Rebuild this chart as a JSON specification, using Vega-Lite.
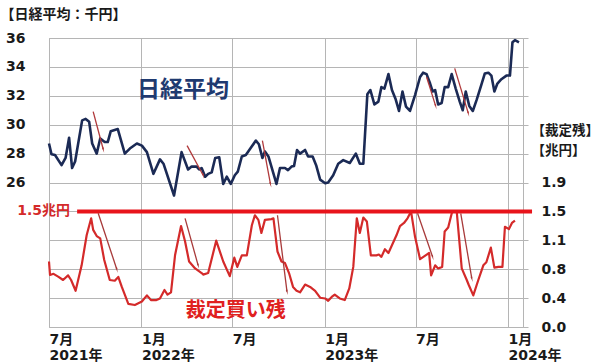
{
  "$schema": "https://vega.github.io/schema/vega-lite/v6.json",
  "width": 474,
  "height": 289,
  "autosize": "none",
  "padding": {"left": 49, "top": 38, "right": 77, "bottom": 36},
  "background": "white",
  "config": {
    "view": {"stroke": "#b5b5b5", "strokeWidth": 1},
    "axis": {
      "domain": false,
      "gridColor": "#b5b5b5",
      "gridWidth": 1,
      "tickColor": "#b5b5b5",
      "labelFont": "DejaVu Sans, Noto Sans CJK JP",
      "labelFontWeight": "bold",
      "labelFontSize": 14,
      "labelColor": "#1a1a1a",
      "titleFont": "Noto Sans CJK JP",
      "titleFontWeight": "bold",
      "titleColor": "#1a1a1a"
    }
  },
  "datasets": {
    "nikkei": [
      {"date": "2021-07-01", "value": 28.7}, {"date": "2021-07-06", "value": 27.95}, {"date": "2021-07-13", "value": 27.9},
      {"date": "2021-07-26", "value": 27.2}, {"date": "2021-08-03", "value": 27.7}, {"date": "2021-08-10", "value": 29.1},
      {"date": "2021-08-16", "value": 27.0}, {"date": "2021-08-22", "value": 27.45}, {"date": "2021-09-05", "value": 30.3},
      {"date": "2021-09-12", "value": 30.4}, {"date": "2021-09-19", "value": 30.2}, {"date": "2021-09-25", "value": 28.7},
      {"date": "2021-10-04", "value": 28.0}, {"date": "2021-10-11", "value": 29.05}, {"date": "2021-10-20", "value": 28.8},
      {"date": "2021-10-26", "value": 28.8}, {"date": "2021-11-01", "value": 29.55}, {"date": "2021-11-15", "value": 29.7},
      {"date": "2021-11-29", "value": 28.0}, {"date": "2021-12-09", "value": 28.35}, {"date": "2021-12-23", "value": 28.7},
      {"date": "2022-01-02", "value": 28.55}, {"date": "2022-01-12", "value": 28.1}, {"date": "2022-01-25", "value": 26.6},
      {"date": "2022-02-07", "value": 27.6}, {"date": "2022-02-14", "value": 27.3}, {"date": "2022-03-07", "value": 25.1},
      {"date": "2022-03-22", "value": 28.1}, {"date": "2022-04-04", "value": 26.9}, {"date": "2022-04-11", "value": 27.1},
      {"date": "2022-04-21", "value": 27.1}, {"date": "2022-04-26", "value": 26.9}, {"date": "2022-05-01", "value": 27.0},
      {"date": "2022-05-08", "value": 26.4}, {"date": "2022-05-14", "value": 26.6}, {"date": "2022-05-21", "value": 26.7},
      {"date": "2022-05-28", "value": 27.7}, {"date": "2022-06-05", "value": 27.75}, {"date": "2022-06-13", "value": 25.9},
      {"date": "2022-06-20", "value": 26.4}, {"date": "2022-06-28", "value": 25.9}, {"date": "2022-07-06", "value": 26.5},
      {"date": "2022-07-12", "value": 26.75}, {"date": "2022-07-20", "value": 27.8}, {"date": "2022-07-28", "value": 27.9},
      {"date": "2022-08-07", "value": 28.4}, {"date": "2022-08-17", "value": 28.9}, {"date": "2022-08-23", "value": 28.65},
      {"date": "2022-08-30", "value": 27.7}, {"date": "2022-09-04", "value": 28.15}, {"date": "2022-09-11", "value": 27.8},
      {"date": "2022-09-19", "value": 26.85}, {"date": "2022-09-27", "value": 25.9}, {"date": "2022-10-04", "value": 27.0},
      {"date": "2022-10-14", "value": 27.0}, {"date": "2022-10-20", "value": 26.85}, {"date": "2022-10-27", "value": 27.1},
      {"date": "2022-11-01", "value": 27.15}, {"date": "2022-11-07", "value": 28.25}, {"date": "2022-11-13", "value": 28.0},
      {"date": "2022-11-23", "value": 28.25}, {"date": "2022-11-29", "value": 27.8}, {"date": "2022-12-08", "value": 27.8},
      {"date": "2022-12-15", "value": 27.2}, {"date": "2022-12-23", "value": 26.2}, {"date": "2023-01-02", "value": 25.95},
      {"date": "2023-01-08", "value": 26.0}, {"date": "2023-01-18", "value": 26.5}, {"date": "2023-01-28", "value": 27.3},
      {"date": "2023-02-07", "value": 27.55}, {"date": "2023-02-20", "value": 27.35}, {"date": "2023-03-04", "value": 28.0},
      {"date": "2023-03-12", "value": 27.3}, {"date": "2023-03-19", "value": 27.3}, {"date": "2023-03-27", "value": 32.1},
      {"date": "2023-04-02", "value": 32.4}, {"date": "2023-04-10", "value": 31.4}, {"date": "2023-04-18", "value": 31.6},
      {"date": "2023-04-24", "value": 32.6}, {"date": "2023-04-30", "value": 32.5}, {"date": "2023-05-08", "value": 33.5},
      {"date": "2023-05-15", "value": 32.4}, {"date": "2023-05-22", "value": 31.8}, {"date": "2023-05-29", "value": 30.95},
      {"date": "2023-06-05", "value": 32.3}, {"date": "2023-06-12", "value": 31.25}, {"date": "2023-06-20", "value": 30.95},
      {"date": "2023-06-30", "value": 32.05}, {"date": "2023-07-10", "value": 33.3}, {"date": "2023-07-16", "value": 33.6},
      {"date": "2023-07-23", "value": 33.5}, {"date": "2023-07-30", "value": 32.85}, {"date": "2023-08-04", "value": 32.3},
      {"date": "2023-08-09", "value": 32.4}, {"date": "2023-08-15", "value": 31.4}, {"date": "2023-08-22", "value": 31.5},
      {"date": "2023-08-28", "value": 32.6}, {"date": "2023-09-04", "value": 32.6}, {"date": "2023-09-11", "value": 33.5},
      {"date": "2023-09-19", "value": 32.5}, {"date": "2023-09-27", "value": 31.6}, {"date": "2023-10-03", "value": 31.0},
      {"date": "2023-10-09", "value": 32.3}, {"date": "2023-10-16", "value": 31.3}, {"date": "2023-10-23", "value": 30.95},
      {"date": "2023-10-31", "value": 31.75}, {"date": "2023-11-09", "value": 32.75}, {"date": "2023-11-16", "value": 33.55},
      {"date": "2023-11-23", "value": 33.6}, {"date": "2023-11-29", "value": 33.4}, {"date": "2023-12-05", "value": 32.3},
      {"date": "2023-12-11", "value": 32.85}, {"date": "2023-12-19", "value": 33.15}, {"date": "2023-12-29", "value": 33.4},
      {"date": "2024-01-05", "value": 33.4}, {"date": "2024-01-10", "value": 35.7}, {"date": "2024-01-15", "value": 35.85},
      {"date": "2024-01-23", "value": 35.7}
    ],
    "margin": [
      {"date": "2021-07-01", "value": 0.85}, {"date": "2021-07-03", "value": 0.675}, {"date": "2021-07-10", "value": 0.69},
      {"date": "2021-07-20", "value": 0.65}, {"date": "2021-07-29", "value": 0.61}, {"date": "2021-08-08", "value": 0.67},
      {"date": "2021-08-14", "value": 0.61}, {"date": "2021-08-23", "value": 0.47}, {"date": "2021-09-04", "value": 0.8},
      {"date": "2021-09-14", "value": 1.19}, {"date": "2021-09-23", "value": 1.41}, {"date": "2021-09-27", "value": 1.26},
      {"date": "2021-10-04", "value": 1.18}, {"date": "2021-10-11", "value": 1.15}, {"date": "2021-10-19", "value": 0.87},
      {"date": "2021-10-30", "value": 0.61}, {"date": "2021-11-09", "value": 0.6}, {"date": "2021-11-16", "value": 0.65},
      {"date": "2021-11-23", "value": 0.52}, {"date": "2021-12-06", "value": 0.3}, {"date": "2021-12-19", "value": 0.285},
      {"date": "2022-01-02", "value": 0.33}, {"date": "2022-01-12", "value": 0.41}, {"date": "2022-01-20", "value": 0.35},
      {"date": "2022-01-31", "value": 0.35}, {"date": "2022-02-07", "value": 0.37}, {"date": "2022-02-16", "value": 0.48},
      {"date": "2022-02-22", "value": 0.42}, {"date": "2022-03-01", "value": 0.45}, {"date": "2022-03-09", "value": 0.93},
      {"date": "2022-03-21", "value": 1.31}, {"date": "2022-03-29", "value": 1.11}, {"date": "2022-04-06", "value": 0.85},
      {"date": "2022-04-18", "value": 0.76}, {"date": "2022-05-01", "value": 0.7}, {"date": "2022-05-04", "value": 0.68},
      {"date": "2022-05-14", "value": 0.7}, {"date": "2022-05-30", "value": 1.12}, {"date": "2022-06-13", "value": 0.85},
      {"date": "2022-06-26", "value": 0.66}, {"date": "2022-07-05", "value": 0.9}, {"date": "2022-07-11", "value": 0.78},
      {"date": "2022-07-20", "value": 0.93}, {"date": "2022-07-30", "value": 0.93}, {"date": "2022-08-09", "value": 1.32},
      {"date": "2022-08-15", "value": 1.45}, {"date": "2022-08-22", "value": 1.39}, {"date": "2022-08-28", "value": 1.22},
      {"date": "2022-09-04", "value": 1.39}, {"date": "2022-09-17", "value": 1.4}, {"date": "2022-09-21", "value": 1.41},
      {"date": "2022-09-29", "value": 0.98}, {"date": "2022-10-07", "value": 0.85}, {"date": "2022-10-14", "value": 0.83},
      {"date": "2022-10-22", "value": 0.7}, {"date": "2022-10-30", "value": 0.52}, {"date": "2022-11-06", "value": 0.47},
      {"date": "2022-11-13", "value": 0.45}, {"date": "2022-11-23", "value": 0.55}, {"date": "2022-12-03", "value": 0.52},
      {"date": "2022-12-13", "value": 0.47}, {"date": "2022-12-23", "value": 0.38}, {"date": "2023-01-02", "value": 0.37},
      {"date": "2023-01-08", "value": 0.34}, {"date": "2023-01-15", "value": 0.39}, {"date": "2023-01-21", "value": 0.42},
      {"date": "2023-01-31", "value": 0.37}, {"date": "2023-02-10", "value": 0.35}, {"date": "2023-02-19", "value": 0.5},
      {"date": "2023-02-27", "value": 0.78}, {"date": "2023-03-06", "value": 1.41}, {"date": "2023-03-12", "value": 1.22},
      {"date": "2023-03-19", "value": 1.42}, {"date": "2023-03-26", "value": 1.37}, {"date": "2023-04-03", "value": 0.93},
      {"date": "2023-04-14", "value": 0.93}, {"date": "2023-04-19", "value": 0.94}, {"date": "2023-04-24", "value": 0.91},
      {"date": "2023-05-01", "value": 1.01}, {"date": "2023-05-08", "value": 0.96}, {"date": "2023-05-15", "value": 1.06},
      {"date": "2023-05-24", "value": 1.19}, {"date": "2023-05-31", "value": 1.31}, {"date": "2023-06-08", "value": 1.35},
      {"date": "2023-06-15", "value": 1.41}, {"date": "2023-06-22", "value": 1.5}, {"date": "2023-06-30", "value": 1.17},
      {"date": "2023-07-10", "value": 0.88}, {"date": "2023-07-21", "value": 0.93}, {"date": "2023-07-28", "value": 0.96},
      {"date": "2023-08-01", "value": 0.67}, {"date": "2023-08-09", "value": 0.8}, {"date": "2023-08-15", "value": 0.76},
      {"date": "2023-08-23", "value": 0.78}, {"date": "2023-08-28", "value": 1.24}, {"date": "2023-09-04", "value": 1.29},
      {"date": "2023-09-12", "value": 1.5}, {"date": "2023-09-21", "value": 1.5}, {"date": "2023-10-01", "value": 0.76},
      {"date": "2023-10-11", "value": 0.61}, {"date": "2023-10-15", "value": 0.545}, {"date": "2023-10-24", "value": 0.41},
      {"date": "2023-11-03", "value": 0.61}, {"date": "2023-11-13", "value": 0.8}, {"date": "2023-11-19", "value": 0.84},
      {"date": "2023-11-28", "value": 1.03}, {"date": "2023-12-05", "value": 0.77}, {"date": "2023-12-13", "value": 0.78},
      {"date": "2023-12-21", "value": 0.78}, {"date": "2023-12-26", "value": 1.3}, {"date": "2024-01-03", "value": 1.27},
      {"date": "2024-01-09", "value": 1.35}, {"date": "2024-01-15", "value": 1.38}
    ],
    "nikkei_arrows": [
      {"date": "2021-10-17", "value": 28.3, "date2": "2021-09-27", "value2": 30.9},
      {"date": "2022-05-04", "value": 26.5, "date2": "2022-04-02", "value2": 28.55},
      {"date": "2022-09-15", "value": 25.9, "date2": "2022-08-30", "value2": 28.9},
      {"date": "2023-08-10", "value": 31.3, "date2": "2023-07-23", "value2": 33.3},
      {"date": "2023-10-14", "value": 30.8, "date2": "2023-09-17", "value2": 33.9}
    ],
    "margin_arrows": [
      {"date": "2021-11-13", "value": 0.75, "date2": "2021-10-07", "value2": 1.475},
      {"date": "2022-04-24", "value": 0.8, "date2": "2022-03-29", "value2": 1.41},
      {"date": "2022-10-18", "value": 0.46, "date2": "2022-09-29", "value2": 1.45},
      {"date": "2023-08-04", "value": 0.91, "date2": "2023-07-05", "value2": 1.475},
      {"date": "2023-10-21", "value": 0.63, "date2": "2023-09-29", "value2": 1.475}
    ],
    "nikkei_labels": [
      {"date": "2022-03-25", "value": 32.4, "label": "日経平均"}
    ],
    "margin_labels": [
      {"date": "2022-07-08", "value": 0.21, "label": "裁定買い残"}
    ],
    "threshold": [
      {"date": "2021-08-26", "date2": "2024-02-18", "value": 1.5}
    ],
    "threshold_label": [
      {"date": "2021-08-12", "value": 1.5, "label": "1.5兆円"}
    ]
  },
  "encoding": {
    "x": {
      "field": "date",
      "type": "temporal",
      "scale": {
        "type": "utc",
        "domain": [
          {"year": 2021, "month": 7, "date": 1, "utc": true},
          {"year": 2024, "month": 1, "date": 31, "utc": true}
        ]
      },
      "axis": {
        "values": [
          {"year": 2021, "month": 7, "date": 1, "utc": true},
          {"year": 2022, "month": 1, "date": 1, "utc": true},
          {"year": 2022, "month": 7, "date": 1, "utc": true},
          {"year": 2023, "month": 1, "date": 1, "utc": true},
          {"year": 2023, "month": 7, "date": 1, "utc": true},
          {"year": 2024, "month": 1, "date": 1, "utc": true}
        ],
        "grid": true,
        "ticks": false,
        "title": null,
        "labelAlign": "left",
        "labelBaseline": "top",
        "labelPadding": 5,
        "labelLineHeight": 16,
        "labelFlush": false,
        "labelOverlap": false,
        "labelExpr": "(utcmonth(datum.value) == 0 || utcyear(datum.value) == 2021) ? [(utcmonth(datum.value) + 1) + '月', utcyear(datum.value) + '年'] : (utcmonth(datum.value) + 1) + '月'"
      }
    }
  },
  "layer": [
    {
      "encoding": {
        "y": {
          "field": "value",
          "type": "quantitative",
          "scale": {"domain": [16, 36], "nice": false, "zero": false},
          "axis": {
            "orient": "left",
            "values": [26, 28, 30, 32, 34, 36],
            "grid": false,
            "ticks": false,
            "labelPadding": 24,
            "title": "【日経平均：千円】",
            "titleAngle": 0,
            "titleAlign": "left",
            "titleBaseline": "middle",
            "titleX": -49,
            "titleY": -24,
            "titleFontSize": 14
          }
        }
      },
      "layer": [
        {
          "data": {"name": "nikkei"},
          "mark": {"type": "line", "color": "#1b2a55", "strokeWidth": 2.6, "strokeJoin": "round"}
        },
        {
          "data": {"name": "nikkei_arrows"},
          "mark": {"type": "rule", "color": "#b0393b", "strokeWidth": 1.3},
          "encoding": {
            "x2": {"field": "date2"},
            "y2": {"field": "value2"}
          }
        },
        {
          "data": {"name": "nikkei_arrows"},
          "mark": {"type": "point", "shape": "wedge", "angle": 165, "size": 40, "filled": true, "color": "#b0393b", "opacity": 1}
        },
        {
          "data": {"name": "nikkei_labels"},
          "mark": {"type": "text", "font": "Noto Sans CJK JP", "fontWeight": "bold", "fontSize": 23, "color": "#1f3a70", "align": "center", "baseline": "middle"},
          "encoding": {"text": {"field": "label"}}
        }
      ]
    },
    {
      "encoding": {
        "y": {
          "field": "value",
          "type": "quantitative",
          "scale": {"domain": [0, 3.75], "nice": false, "zero": true},
          "axis": {
            "orient": "right",
            "values": [0, 0.375, 0.75, 1.125, 1.5, 1.875, 2.25, 2.625, 3, 3.375, 3.75],
            "grid": true,
            "ticks": true,
            "tickSize": 5,
            "labelPadding": 13,
            "labelAlign": "left",
            "labelExpr": "datum.value < 2 ? format(datum.value, '.1f') : ''",
            "title": ["【裁定残】", "【兆円】"],
            "titleAngle": 0,
            "titleAlign": "left",
            "titleBaseline": "alphabetic",
            "titleX": 8,
            "titleY": 96,
            "titleLineHeight": 20,
            "titleFontSize": 13.5
          }
        }
      },
      "layer": [
        {
          "data": {"name": "margin"},
          "mark": {"type": "line", "color": "#d42a2a", "strokeWidth": 2.2, "strokeJoin": "round"}
        },
        {
          "data": {"name": "threshold"},
          "mark": {"type": "rule", "color": "#e8141b", "strokeWidth": 4},
          "encoding": {"x2": {"field": "date2"}}
        },
        {
          "data": {"name": "threshold_label"},
          "mark": {"type": "text", "font": "DejaVu Sans, Noto Sans CJK JP", "fontWeight": "bold", "fontSize": 14, "color": "#d42a2a", "align": "right", "baseline": "middle"},
          "encoding": {"text": {"field": "label"}}
        },
        {
          "data": {"name": "margin_arrows"},
          "mark": {"type": "rule", "color": "#a83a3a", "strokeWidth": 1.3},
          "encoding": {
            "x2": {"field": "date2"},
            "y2": {"field": "value2"}
          }
        },
        {
          "data": {"name": "margin_arrows"},
          "mark": {"type": "point", "shape": "wedge", "angle": 165, "size": 40, "filled": true, "color": "#a83a3a", "opacity": 1}
        },
        {
          "data": {"name": "margin_labels"},
          "mark": {"type": "text", "font": "Noto Sans CJK JP", "fontWeight": "bold", "fontSize": 20, "color": "#e02020", "align": "center", "baseline": "middle"},
          "encoding": {"text": {"field": "label"}}
        }
      ]
    }
  ],
  "resolve": {"scale": {"y": "independent"}}
}
